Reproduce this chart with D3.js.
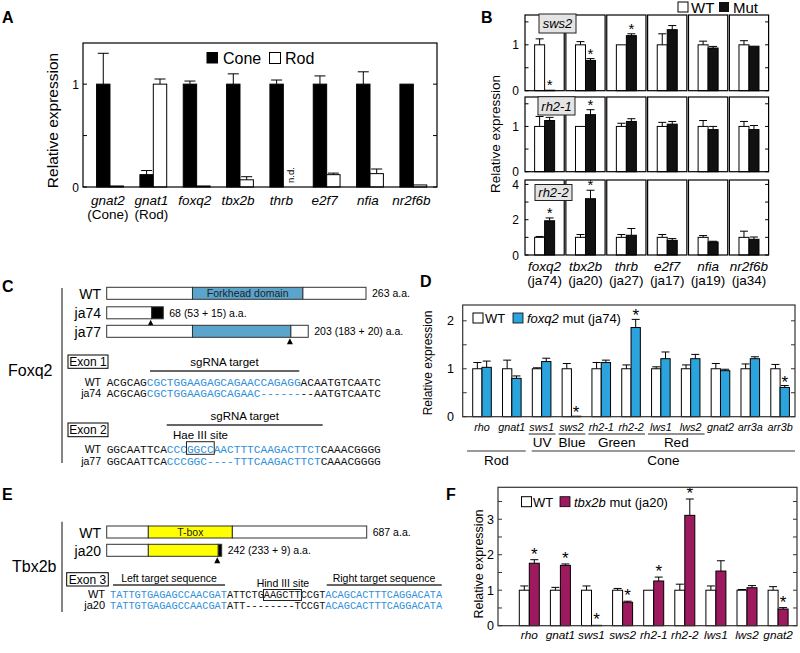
<!DOCTYPE html>
<html><head><meta charset="utf-8">
<script src="https://cdn.jsdelivr.net/npm/d3@7/dist/d3.min.js"></script>
<style>html,body{margin:0;padding:0;background:#fff}svg{display:block}</style>
</head><body>
<svg id="fig" width="800" height="653" xmlns="http://www.w3.org/2000/svg"></svg>
<script>
// ================= DATA =================
// Panel A
const aGenes = ["gnat2","gnat1","foxq2","tbx2b","thrb","e2f7","nfia","nr2f6b"];
const aGeneNotes = ["(Cone)","(Rod)","","","","","",""];
const aSeries = ["Cone","Rod"];
const aCone    = [1.00,0.12,1.00,1.00,1.00,1.00,1.00,1.00];
const aConeErr = [0.30,0.04,0.03,0.10,0.04,0.08,0.12,0.00];
const aRod     = [0.01,1.00,0.01,0.07,null,0.12,0.13,0.02];
const aRodErr  = [0.00,0.05,0.00,0.03,0.00,0.015,0.045,0.00];
const aTickVals = [0,1];
const aMinorTicks = [0.5];

// Panel B
const bMutants = ["foxq2","tbx2b","thrb","e2f7","nfia","nr2f6b"];
const bAlleles = ["(ja74)","(ja20)","(ja27)","(ja17)","(ja19)","(ja34)"];
const bTargets = ["sws2","rh2-1","rh2-2"];
const bSeries = ["WT","Mut"];
const bWT     = [[1,1,1,1,1,1],[1,1,1,1,1,1],[1,1,1,1,1,1]];
const bWTErr  = [[0.13,0.07,0.01,0.24,0.08,0.09],[0.22,0.00,0.07,0.09,0.13,0.11],[0.05,0.16,0.16,0.16,0.10,0.35]];
const bMut    = [[0.01,0.66,1.20,1.33,0.93,0.97],[1.13,1.26,1.11,1.05,0.93,0.93],[1.94,3.19,1.12,0.83,0.74,0.89]];
const bMutErr = [[0.00,0.04,0.04,0.09,0.035,0.01],[0.07,0.11,0.06,0.06,0.07,0.09],[0.16,0.48,0.38,0.10,0.04,0.13]];
const bStars  = [[1,1,1,0,0,0],[0,1,0,0,0,0],[1,1,0,0,0,0]];
const bDomainMax = [1.65,1.65,4.25];
const bTickVals  = [[0,1],[0,1],[0,2,4]];
const bMinorTicks = [[0.5,1.5],[0.5,1.5],[1,3]];

// Panel C (Foxq2) – protein segments in amino-acid units
const cProteins = ["WT","ja74","ja77"];
const cLengthLabels = ["263 a.a.","68 (53 + 15) a.a.","203 (183 + 20) a.a."];
const cSegments = [
  [[0,87,"plain"],[87,199,"domain"],[199,263,"plain"]],
  [[0,45.6,"plain"],[45.6,57.4,"frameshift"]],
  [[0,87,"plain"],[87,186.8,"domain"],[186.8,204.4,"plain"]]
];
const cMutSites = [null,45.6,186.8];
const cDomainName = "Forkhead domain";
const cExon1Seqs = [
  ["WT",  [["ACGCAG","k"],["CGCTGGAAGAGCAGAACCAGAGG","b"],["ACAATGTCAATC","k"]]],
  ["ja74",[["ACGCAG","k"],["CGCTGGAAGAGCAGAAC------","b"],["--AATGTCAATC","k"]]]
];
const cExon2Seqs = [
  ["WT",  [["GGCAATTCA","k"],["CCCGGCCAACTTTCAAGACTTCT","b"],["CAAACGGGG","k"]]],
  ["ja77",[["GGCAATTCA","k"],["CCCGGC----TTTCAAGACTTCT","b"],["CAAACGGGG","k"]]]
];
const cHaeSite = [12,16];   // char index range of GGCC

// Panel D
const dGenes = ["rho","gnat1","sws1","sws2","rh2-1","rh2-2","lws1","lws2","gnat2","arr3a","arr3b"];
const dWT     = [1,1,1,1,1,1,1,1,1,1,1];
const dWTErr  = [0.13,0.18,0.02,0.11,0.13,0.08,0.04,0.08,0.11,0.10,0.09];
const dMut    = [1.03,0.80,1.15,0.01,1.13,1.86,1.21,1.21,0.96,1.21,0.61];
const dMutErr = [0.13,0.05,0.07,0.00,0.05,0.17,0.14,0.09,0.03,0.04,0.04];
const dStars  = [0,0,0,1,0,1,0,0,0,0,1];
const dTickVals = [0,1,2];
const dMinorTicks = [0.5,1.5];
const dOpsins = [["UV","sws1","sws1"],["Blue","sws2","sws2"],["Green","rh2-1","rh2-2"],["Red","lws1","lws2"]];
const dCellTypes = [["Rod","rho","gnat1"],["Cone","sws1","arr3b"]];

// Panel E (Tbx2b)
const eProteins = ["WT","ja20"];
const eLengthLabels = ["687 a.a.","242 (233 + 9) a.a."];
const eSegments = [
  [[0,110,"plain"],[110,332,"domain"],[332,687,"plain"]],
  [[0,110,"plain"],[110,294.8,"domain"],[294.8,303.8,"frameshift"]]
];
const eMutSites = [null,294.8];
const eDomainName = "T-box";
const eExon3Seqs = [
  ["WT",  [["TATTGTGAGAGCCAACGAT","b"],["ATTCTGAAGCTTCCGT","k"],["ACAGCACTTTCAGGACATA","b"]]],
  ["ja20",[["TATTGTGAGAGCCAACGAT","b"],["ATT--------TCCGT","k"],["ACAGCACTTTCAGGACATA","b"]]]
];
const eHindSite = [25,31];

// Panel F
const fGenes = ["rho","gnat1","sws1","sws2","rh2-1","rh2-2","lws1","lws2","gnat2"];
const fWT     = [1,1,1,1,1,1,1,1,1];
const fWTErr  = [0.12,0.08,0.12,0.05,0.00,0.17,0.12,0.02,0.10];
const fMut    = [1.76,1.70,0.01,0.66,1.26,3.11,1.54,1.07,0.47];
const fMutErr = [0.10,0.04,0.00,0.03,0.11,0.46,0.29,0.06,0.04];
const fStars  = [1,1,1,1,1,1,0,0,1];
const fTickVals = [0,1,2,3];
const fMinorTicks = [0.5,1.5,2.5,3.5];

// ================= DRAWING =================
const SANS = '"Liberation Sans", Arial, Helvetica, sans-serif';
const MONO = '"Liberation Mono", "Courier New", monospace';
const SEQBLUE = "#2f8fd8", DBLUE = "#2ba3dc", FPURP = "#9e1a5f", FKH = "#5ba4cc", TBOX = "#ffff00";
const svg = d3.select("#fig").attr("font-family", SANS);
svg.append("rect").attr("width",800).attr("height",653).attr("fill","#fff");

function txt(g, x, y, s, o = {}) {
  const t = g.append("text").attr("x", x).attr("y", y).text(s)
    .attr("font-size", o.fs || 12).attr("fill", o.fill || "#000")
    .attr("text-anchor", o.anchor || "start");
  if (o.italic) t.attr("font-style", "italic");
  if (o.bold) t.attr("font-weight", "bold");
  if (o.family) t.attr("font-family", o.family);
  if (o.rotate) t.attr("transform", `rotate(${o.rotate},${x},${y})`);
  return t;
}
function line(g, x1, y1, x2, y2, c = "#000", w = 1) {
  return g.append("line").attr("x1",x1).attr("y1",y1).attr("x2",x2).attr("y2",y2)
    .attr("stroke", c).attr("stroke-width", w);
}
function errBar(g, cx, y0, y1, hw) {
  if (Math.abs(y0 - y1) < 0.5) return;
  line(g, cx, y0, cx, y1);
  line(g, cx - hw, y1, cx + hw, y1);
}
function bar(g, x, w, y, v, fill) {
  g.append("rect").attr("x", x).attr("y", y(v)).attr("width", w)
    .attr("height", Math.max(0, y(0) - y(v))).attr("fill", fill)
    .attr("stroke", "#000").attr("stroke-width", 1);
}
function star(g, cx, yTop, fs = 16) {
  txt(g, cx, yTop + 1, "*", { fs, anchor: "middle" });
}
function frame(g, L, T, R, B, c = "#000", w = 1.2) {
  g.append("rect").attr("x", L).attr("y", T).attr("width", R - L).attr("height", B - T)
    .attr("fill", "none").attr("stroke", c).attr("stroke-width", w);
}
function inTicks(g, y, vals, L, R, len = 4, c = "#000") {
  vals.forEach(v => {
    if (L != null) line(g, L, y(v), L + len, y(v), c);
    if (R != null) line(g, R, y(v), R - len, y(v), c);
  });
}

// Panel letters
[["A",2,23],["B",481,23],["C",2,292],["D",420,287],["E",2,500],["F",446,500]]
  .forEach(([s,x,y]) => txt(svg, x, y, s, { fs: 16, bold: true }));

// ---------- Panel A ----------
(function () {
  const g = svg.append("g");
  const L = 83, R = 437, T = 43, B = 187;
  const x = d3.scaleBand().domain(aGenes).range([88.3, 435]);
  const sub = d3.scaleBand().domain(aSeries).range([0, 26.8]);
  const y = d3.scaleLinear().domain([0, 1.4]).range([B, T]);
  aGenes.forEach((gn, i) => {
    const c0 = x(gn) + x.bandwidth() / 2 - 13.4;
    const vals = [[aCone[i], aConeErr[i], "#000", "Cone"], [aRod[i], aRodErr[i], "#fff", "Rod"]];
    vals.forEach(([v, e, f, s]) => {
      const bx = c0 + sub(s), bw = sub.bandwidth();
      if (v == null) {
        txt(g, bx + bw / 2 + 3.5, 183, "n.d.", { fs: 9.5, rotate: -90 });
        return;
      }
      bar(g, bx, bw, y, v, f);
      errBar(g, bx + bw / 2, y(v), y(v + e), 5.5);
    });
    const cx = x(gn) + x.bandwidth() / 2 - 2;
    txt(g, cx, 205, gn, { fs: 13.5, italic: true, anchor: "middle" });
    if (aGeneNotes[i]) txt(g, cx, 219, aGeneNotes[i], { fs: 13.5, anchor: "middle" });
  });
  frame(g, L, T, R, B);
  inTicks(g, y, aTickVals.concat(aMinorTicks), L, R, 4);
  aTickVals.forEach(v => txt(g, 79, y(v) + 4.5, String(v), { fs: 12, anchor: "end" }));
  txt(g, 57.5, 120.5, "Relative expression", { fs: 15.5, anchor: "middle", rotate: -90 });
  // legend
  g.append("rect").attr("x", 206.5).attr("y", 52).attr("width", 11.5).attr("height", 11.5).attr("fill", "#000");
  txt(g, 223, 63.5, "Cone", { fs: 16 });
  g.append("rect").attr("x", 269.5).attr("y", 52.5).attr("width", 11).attr("height", 11).attr("fill", "#fff").attr("stroke", "#000");
  txt(g, 285, 63.5, "Rod", { fs: 16 });
})();

// ---------- Panel B ----------
(function () {
  const g = svg.append("g");
  const colX = d3.scaleBand().domain(bMutants).range([525, 768.6]).paddingInner(0.04);
  const rowsTB = [[15, 90.7], [97, 171.7], [180, 255]];
  const sub = d3.scaleBand().domain(bSeries).range([-10, 10]);
  bTargets.forEach((tg, r) => {
    const [T, B] = rowsTB[r];
    const y = d3.scaleLinear().domain([0, bDomainMax[r]]).range([B, T]);
    bMutants.forEach((m, c) => {
      const L = colX(m), W = colX.bandwidth(), cx = L + W / 2;
      const wx = cx + sub("WT"), mx = cx + sub("Mut"), bw = sub.bandwidth();
      bar(g, wx, bw, y, bWT[r][c], "#fff");
      errBar(g, wx + bw / 2, y(bWT[r][c]), y(bWT[r][c] + bWTErr[r][c]), 4);
      bar(g, mx, bw, y, bMut[r][c], "#111");
      errBar(g, mx + bw / 2, y(bMut[r][c]), y(bMut[r][c] + bMutErr[r][c]), 4);
      if (bStars[r][c]) star(g, mx + bw / 2, y(bMut[r][c] + bMutErr[r][c]) - 1, 15);
      frame(g, L, T, L + W, B, "#000", 1.2);
    });
    const Lf = colX(bMutants[0]), Rf = colX(bMutants[5]) + colX.bandwidth();
    inTicks(g, y, bTickVals[r].concat(bMinorTicks[r]), Lf, Rf, 3.5);
    bTickVals[r].forEach(v => txt(g, 519, y(v) + 4.5, String(v), { fs: 12, anchor: "end" }));
  });
  // target gene label boxes
  const tBoxes = [[539, 14, 37, 19], [538, 96.7, 37, 18.3], [535, 184.5, 37, 16]];
  bTargets.forEach((tg, r) => {
    const [bx, by, bw, bh] = tBoxes[r];
    g.append("rect").attr("x", bx).attr("y", by).attr("width", bw).attr("height", bh)
      .attr("fill", "#e4e4e4").attr("stroke", "#222").attr("stroke-width", 1);
    txt(g, bx + bw / 2, by + bh / 2 + 4.8, tg, { fs: 13, italic: true, anchor: "middle" });
  });
  bMutants.forEach((m, c) => {
    const cx = colX(m) + colX.bandwidth() / 2;
    txt(g, cx, 271, m, { fs: 13.5, italic: true, anchor: "middle" });
    txt(g, cx, 285, bAlleles[c], { fs: 13.5, anchor: "middle" });
  });
  txt(g, 500, 134, "Relative expression", { fs: 13.5, anchor: "middle", rotate: -90 });
  // legend
  g.append("rect").attr("x", 678).attr("y", 2).attr("width", 10).attr("height", 10).attr("fill", "#fff").attr("stroke", "#000");
  txt(g, 691, 12.5, "WT", { fs: 15 });
  g.append("rect").attr("x", 719).attr("y", 2).attr("width", 10).attr("height", 10).attr("fill", "#111");
  txt(g, 733, 12.5, "Mut", { fs: 15 });
})();

// ---------- protein diagram helper ----------
function protein(g, xs, yTop, h, segs, domainName, domainFill, mutSite, nameLbl, lenLbl, nameFs) {
  segs.forEach(([a, b, kind]) => {
    const fill = kind === "domain" ? domainFill : kind === "frameshift" ? "#000" : "#fff";
    g.append("rect").attr("x", xs(a)).attr("y", yTop).attr("width", xs(b) - xs(a)).attr("height", h)
      .attr("fill", fill).attr("stroke", "#333").attr("stroke-width", 1);
    if (kind === "domain" && domainName)
      txt(g, (xs(a) + xs(b)) / 2, yTop + h / 2 + 4, domainName, { fs: 10.5, anchor: "middle", fill: "#222" });
  });
  const end = xs(segs[segs.length - 1][1]);
  txt(g, 101, yTop + h / 2 + 5.5, nameLbl, { fs: nameFs, anchor: "end" });
  txt(g, end + 6, yTop + h / 2 + 4, lenLbl, { fs: 10.5 });
  if (mutSite != null) {
    const mx = xs(mutSite) - 1, b = yTop + h;
    g.append("path").attr("d", `M${mx},${b + 1}L${mx - 3},${b + 7}L${mx + 3},${b + 7}Z`).attr("fill", "#000");
  }
}
function seqBlock(g, rows, x0, y0, dy, fs, labelX, labelFs) {
  rows.forEach(([lbl, parts], i) => {
    const y = y0 + i * dy;
    txt(g, labelX, y, lbl, { fs: labelFs, anchor: "end" });
    const t = g.append("text").attr("x", x0).attr("y", y).attr("font-family", MONO)
      .attr("font-size", fs).attr("xml:space", "preserve");
    parts.forEach(([s, c]) => t.append("tspan").text(s).attr("fill", c === "b" ? SEQBLUE : "#111"));
  });
}
function labelBox(g, x, y, w, h, s, fs) {
  g.append("rect").attr("x", x).attr("y", y).attr("width", w).attr("height", h)
    .attr("fill", "#fff").attr("stroke", "#000").attr("stroke-width", 1);
  txt(g, x + w / 2, y + h / 2 + fs * 0.36, s, { fs, anchor: "middle" });
}

// ---------- Panel C ----------
(function () {
  const g = svg.append("g");
  line(g, 62, 288, 62, 463, "#333", 1.2);
  txt(g, 8, 376, "Foxq2", { fs: 16 });
  const xs = d3.scaleLinear().domain([0, 263]).range([106.7, 366]);
  const rowsY = [287.3, 306.8, 325.3];
  cProteins.forEach((p, i) =>
    protein(g, xs, rowsY[i], 12, cSegments[i], i === 0 ? cDomainName : null, FKH, cMutSites[i], p, cLengthLabels[i], 14));
  // Exon 1
  labelBox(g, 68, 355, 40, 13.3, "Exon 1", 12);
  txt(g, 224.5, 366, "sgRNA target", { fs: 11.5, anchor: "middle" });
  line(g, 150, 371, 299.3, 371, "#333", 1.3);
  const cw1 = 6.69, fs1 = cw1 / 0.6;
  seqBlock(g, cExon1Seqs, 106.7, 385.5, 11.5, fs1, 101, 10.5);
  // Exon 2
  labelBox(g, 68, 423, 40, 13.7, "Exon 2", 12);
  txt(g, 244.7, 419.5, "sgRNA target", { fs: 11.5, anchor: "middle" });
  line(g, 166.7, 425, 322.7, 425, "#333", 1.3);
  txt(g, 173, 438.5, "Hae III site", { fs: 11.5 });
  seqBlock(g, cExon2Seqs, 106.7, 453, 12, fs1, 101, 10.5);
  g.append("rect").attr("x", 106.7 + cHaeSite[0] * cw1 - 0.5).attr("y", 441.7)
    .attr("width", (cHaeSite[1] - cHaeSite[0]) * cw1 + 1).attr("height", 12.6)
    .attr("fill", "none").attr("stroke", "#222").attr("stroke-width", 1);
})();

// ---------- Panel E ----------
(function () {
  const g = svg.append("g");
  line(g, 62, 521.7, 62, 612, "#333", 1.2);
  txt(g, 12, 572, "Tbx2b", { fs: 16 });
  const xs = d3.scaleLinear().domain([0, 687]).range([106.7, 366.7]);
  const rowsY = [526, 544.3];
  eProteins.forEach((p, i) =>
    protein(g, xs, rowsY[i], 12, eSegments[i], i === 0 ? eDomainName : null, TBOX, eMutSites[i], p, eLengthLabels[i], 14));
  labelBox(g, 66.7, 572.7, 41.6, 13.3, "Exon 3", 12);
  txt(g, 169, 581.5, "Left target sequence", { fs: 10.5, anchor: "middle" });
  line(g, 113, 585, 225, 585, "#333", 1.3);
  txt(g, 256.7, 587, "Hind III site", { fs: 10.5 });
  txt(g, 384, 581.5, "Right target sequence", { fs: 10.5, anchor: "middle" });
  line(g, 326.7, 585, 441.7, 585, "#333", 1.3);
  const cw = 6.16, fs = cw / 0.6;
  seqBlock(g, eExon3Seqs, 110, 598, 11, fs, 105, 11);
  g.append("rect").attr("x", 110 + eHindSite[0] * cw - 0.5).attr("y", 589.5)
    .attr("width", (eHindSite[1] - eHindSite[0]) * cw + 1).attr("height", 11)
    .attr("fill", "none").attr("stroke", "#222").attr("stroke-width", 1);
})();

// ---------- grouped bar panel helper (D, F) ----------
function groupPanel(o) {
  const g = svg.append("g");
  const x = d3.scaleBand().domain(o.genes).range(o.xr);
  const sub = d3.scaleBand().domain(["WT", "Mut"]).range([-o.bw, o.bw]);
  const y = d3.scaleLinear().domain([0, o.ymax]).range([o.B, o.T]);
  o.genes.forEach((gn, i) => {
    const cx = x(gn) + x.bandwidth() / 2, bw = sub.bandwidth();
    const wx = cx + sub("WT"), mx = cx + sub("Mut");
    bar(g, wx, bw, y, o.wt[i], "#fff");
    errBar(g, wx + bw / 2, y(o.wt[i]), y(o.wt[i] + o.wtErr[i]), 4);
    bar(g, mx, bw, y, o.mut[i], o.color);
    errBar(g, mx + bw / 2, y(o.mut[i]), y(o.mut[i] + o.mutErr[i]), 4);
    if (o.stars[i]) star(g, mx + bw / 2, y(o.mut[i] + o.mutErr[i]) + o.starDy, 17);
    txt(g, cx, o.labelY, gn, { fs: o.xlabFs, italic: true, anchor: "middle" });
  });
  frame(g, o.L, o.T, o.R, o.B, "#333", 1.2);
  inTicks(g, y, o.ticks.concat(o.minor), o.L, o.R, 4, "#333");
  o.ticks.forEach(v => txt(g, o.tickX, y(v) + 4.5, String(v), { fs: 12.5, anchor: "end" }));
  txt(g, o.ylabX, o.ylabY, "Relative expression", { fs: o.ylabFs, anchor: "middle", rotate: -90 });
  // legend
  const [lx, ly] = o.legend;
  g.append("rect").attr("x", lx).attr("y", ly).attr("width", 10).attr("height", 10).attr("fill", "#fff").attr("stroke", "#000");
  txt(g, lx + o.wtGap, ly + 10, "WT", { fs: 13 });
  g.append("rect").attr("x", lx + o.mutBoxDx).attr("y", ly).attr("width", 10).attr("height", 10).attr("fill", o.color).attr("stroke", "#000").attr("stroke-width", 0.8);
  const t = g.append("text").attr("x", lx + o.mutBoxDx + 14).attr("y", ly + 10).attr("font-size", 13);
  t.append("tspan").text(o.mutName).attr("font-style", "italic");
  t.append("tspan").text(" mut " + o.allele);
  return { g, x };
}

// ---------- Panel D ----------
(function () {
  const { g, x } = groupPanel({
    genes: dGenes, wt: dWT, wtErr: dWTErr, mut: dMut, mutErr: dMutErr, stars: dStars,
    color: DBLUE, xr: [467.1, 795], bw: 9.3, ymax: 2.33, L: 462.7, R: 795, T: 305, B: 416.7,
    ticks: dTickVals, minor: dMinorTicks, tickX: 454, labelY: 430.5, xlabFs: 10.8,
    ylabX: 432, ylabY: 363, ylabFs: 12, starDy: 1,
    legend: [473, 313], wtGap: 12, mutBoxDx: 40, mutName: "foxq2", allele: "(ja74)"
  });
  dOpsins.forEach(([lbl, a, b]) => {
    const x1 = x(a) + 2, x2 = x(b) + x.bandwidth() - 1;
    line(g, x1, 434, x2, 434, "#222", 1);
    txt(g, (x1 + x2) / 2, 447, lbl, { fs: 13.5, anchor: "middle" });
  });
  dCellTypes.forEach(([lbl, a, b], i) => {
    const x1 = x(a) + (i === 0 ? 0 : 5), x2 = i === 0 ? x(b) + x.bandwidth() - 1 : 795;
    line(g, x1, 451, x2, 451, "#999", 2);
    txt(g, (x1 + x2) / 2, 465, lbl, { fs: 13.5, anchor: "middle" });
  });
})();

// ---------- Panel F ----------
groupPanel({
  genes: fGenes, wt: fWT, wtErr: fWTErr, mut: fMut, mutErr: fMutErr, stars: fStars,
  color: FPURP, xr: [513.75, 793.65], bw: 10, ymax: 3.9, L: 498, R: 797, T: 487.3, B: 625.7,
  ticks: fTickVals, minor: fMinorTicks, tickX: 494, labelY: 639, xlabFs: 11.8,
  ylabX: 482.5, ylabY: 564, ylabFs: 12.5, starDy: -1,
  legend: [521.5, 496.7], wtGap: 11.5, mutBoxDx: 38.5, mutName: "tbx2b", allele: "(ja20)"
});
</script>
</body></html>
